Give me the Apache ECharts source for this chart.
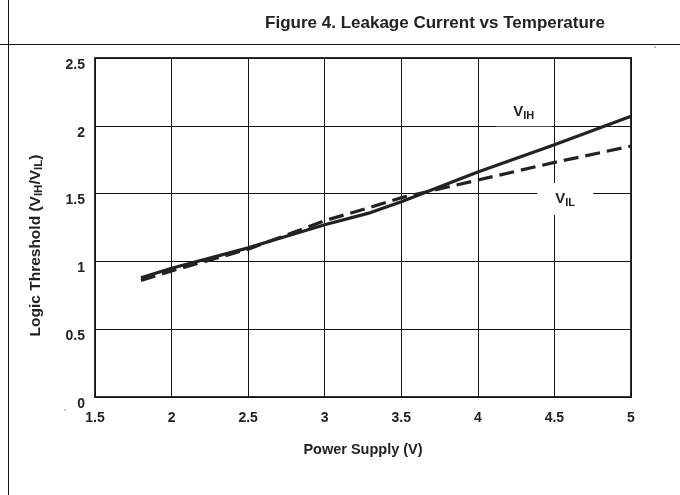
<!DOCTYPE html>
<html>
<head>
<meta charset="utf-8">
<script src="https://cdn.jsdelivr.net/npm/echarts@6/dist/echarts.min.js"></script>
<style>html,body{margin:0;padding:0;background:#fff;}#c{width:680px;height:495px;}</style>
</head>
<body>
<div id="c"></div>
<script>
var supplyV = [1.8, 2.0, 2.5, 3.0, 3.3, 3.5, 4.0, 4.5, 5.0];
var vih = [0.88, 0.95, 1.10, 1.27, 1.36, 1.44, 1.66, 1.86, 2.07];
var vil = [0.86, 0.93, 1.09, 1.30, 1.40, 1.47, 1.60, 1.73, 1.85];
var xTicks = [1.5, 2, 2.5, 3, 3.5, 4, 4.5, 5];
var yTicks = [0, 0.5, 1, 1.5, 2, 2.5];

function pairs(xs, ys){ return xs.map(function(x,i){ return [x, ys[i]]; }); }

var chart = echarts.init(document.getElementById('c'));
var ink = '#222';
var font = '"Liberation Sans", Arial, sans-serif';
var sub = {fontSize: 11.5, fontWeight: 'bold', fontFamily: font, color: ink, verticalAlign: 'bottom', padding: [7,0,0,0]};
chart.setOption({
  animation: false,
  backgroundColor: '#fff',
  title: {
    text: 'Figure 4. Leakage Current vs Temperature',
    left: 430, top: 10, textAlign: 'center',
    textStyle: {fontFamily: font, fontWeight: 'bold', fontSize: 17, color: ink}
  },
  grid: {left: 95, right: 49, top: 58, bottom: 98, show: true, borderColor: '#333', borderWidth: 2, backgroundColor: 'transparent'},
  xAxis: {
    type: 'value', min: 1.5, max: 5, interval: 0.5,
    name: 'Power Supply (V)', nameLocation: 'middle', nameGap: 45,
    nameTextStyle: {fontFamily: font, fontWeight: 'bold', fontSize: 14.5, color: ink},
    axisLine: {show: false}, axisTick: {show: false},
    axisLabel: {margin: 14, fontFamily: font, fontWeight: 'bold', fontSize: 14, color: ink,
      formatter: function(v){ return xTicks.indexOf(v) >= 0 ? String(v) : ''; }},
    splitLine: {show: true, lineStyle: {color: '#111', width: 1}}
  },
  yAxis: {
    type: 'value', min: 0, max: 2.5, interval: 0.5,
    name: '{m|Logic Threshold (V}{s|IH}{m|/V}{s|IL}{m|)}', nameLocation: 'middle', nameGap: 50,
    nameTextStyle: {padding: [0, 36, 0, 0], rich: {
      m: {fontFamily: font, fontWeight: 'bold', fontSize: 15.5, color: ink},
      s: sub
    }},
    axisLine: {show: false}, axisTick: {show: false},
    axisLabel: {margin: 10, fontFamily: font, fontWeight: 'bold', fontSize: 14, color: ink, verticalAlign: 'top',
      formatter: function(v){ return yTicks.indexOf(v) >= 0 ? String(v) : ''; }},
    splitLine: {show: true, lineStyle: {color: '#111', width: 1}}
  },
  series: [
    {
      name: 'VIH', type: 'line', data: pairs(supplyV, vih), showSymbol: false, symbol: 'none',
      lineStyle: {color: ink, width: 3.2}, z: 3,
      markPoint: {
        symbol: 'rect', symbolSize: [56, 28], silent: true,
        itemStyle: {color: '#fff'},
        label: {show: true, formatter: '{v|V}{s|IH}', rich: {
          v: {fontFamily: font, fontWeight: 'bold', fontSize: 15, color: ink},
          s: {fontFamily: font, fontWeight: 'bold', fontSize: 11, color: ink, verticalAlign: 'bottom', padding: [8,0,0,0]}
        }},
        data: [{coord: [4.30, 2.10]}]
      }
    },
    {
      name: 'VIL', type: 'line', data: pairs(supplyV, vil), showSymbol: false, symbol: 'none',
      lineStyle: {color: ink, width: 3.2, type: [15, 7]}, z: 3,
      markPoint: {
        symbol: 'rect', symbolSize: [56, 32], silent: true,
        itemStyle: {color: '#fff'},
        label: {show: true, formatter: '{v|V}{s|IL}', rich: {
          v: {fontFamily: font, fontWeight: 'bold', fontSize: 15, color: ink},
          s: {fontFamily: font, fontWeight: 'bold', fontSize: 11, color: ink, verticalAlign: 'bottom', padding: [8,0,0,0]}
        }},
        data: [{coord: [4.57, 1.46]}]
      }
    }
  ],
  graphic: [
    {type: 'line', shape: {x1: 8.5, y1: 0, x2: 8.5, y2: 495}, style: {stroke: '#111', lineWidth: 1}},
    {type: 'line', shape: {x1: 0, y1: 44.5, x2: 680, y2: 44.5}, style: {stroke: '#111', lineWidth: 1}},
    {type: 'circle', shape: {cx: 655, cy: 47, r: 0.8}, style: {fill: '#666'}},
    {type: 'circle', shape: {cx: 65, cy: 410, r: 0.8}, style: {fill: '#888'}}
  ]
});
</script>
</body>
</html>
